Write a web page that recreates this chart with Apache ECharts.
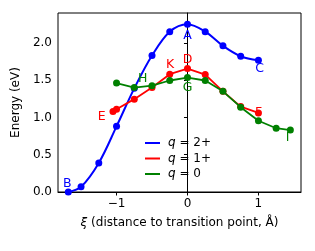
<!DOCTYPE html>
<html><head><meta charset="utf-8">
<script src="https://cdn.jsdelivr.net/npm/echarts@6/dist/echarts.min.js"></script>
<style>html,body{margin:0;padding:0;background:#fff}#c{width:315px;height:251px}</style>
</head><body><div id="c"></div>
<script>
var blueX = [-1.68, -1.5, -1.25, -1.0, -0.75, -0.5, -0.25, 0, 0.25, 0.5, 0.75, 1.0];
var blueY = [0.0, 0.07, 0.39, 0.88, 1.39, 1.83, 2.15, 2.25, 2.15, 1.96, 1.82, 1.765];
var redX = [-1.05, -1.0, -0.75, -0.5, -0.25, 0, 0.25, 0.5, 0.75, 1.0];
var redY = [1.08, 1.11, 1.245, 1.40, 1.58, 1.655, 1.575, 1.35, 1.145, 1.06];
var greenX = [-1.0, -0.75, -0.5, -0.25, 0, 0.25, 0.5, 0.75, 1.0, 1.25, 1.45];
var greenY = [1.46, 1.40, 1.425, 1.495, 1.535, 1.495, 1.35, 1.137, 0.955, 0.855, 0.83];
var seriesNames = ['2+', '1+', '0'];
var xTicks = [-1, 0, 1];
var yTicks = [0, 0.5, 1.0, 1.5, 2.0];
var labelText = ['A', 'B', 'C', 'D', 'K', 'E', 'F', 'G', 'H', 'I'];
var labelX = [0, -1.695, 1.017, 0, -0.244, -1.209, 1.003, 0, -0.63, 1.41];
var labelY = [2.098, 0.113, 1.65, 1.775, 1.707, 1.01, 1.057, 1.40, 1.512, 0.73];
var labelSeries = [0, 0, 0, 1, 1, 1, 1, 2, 2, 2];

var colors = ['#0000ff', '#ff0000', '#008000'];
function zip(xs, ys) { return xs.map(function (x, i) { return [x, ys[i]]; }); }
var FONT = 'DejaVu Sans';
var chart = echarts.init(document.getElementById('c'), null, {renderer: 'canvas'});
var lineSeries = [[blueX, blueY], [redX, redY], [greenX, greenY]].map(function (d, k) {
  return {
    name: seriesNames[k], type: 'line', data: zip(d[0], d[1]),
    smooth: k === 0 ? 0.35 : false,
    symbol: 'circle', symbolSize: 7, showAllSymbol: true,
    itemStyle: {color: colors[k]}, lineStyle: {color: colors[k], width: k === 0 ? 2 : 1.8},
    animation: false, z: 2 + k
  };
});
var labelData = labelText.map(function (t, i) { return [labelX[i], labelY[i], labelSeries[i], t]; });
var labelSer = {
  type: 'custom', data: labelData, silent: true, animation: false, z: 10,
  encode: {x: 0, y: 1},
  renderItem: function (params, api) {
    var p = api.coord([api.value(0), api.value(1)]);
    var k = api.value(2);
    return {
      type: 'text', x: p[0], y: p[1],
      style: {text: labelData[params.dataIndex][3], fill: colors[k], font: '12.5px "DejaVu Sans"',
        align: 'center', verticalAlign: 'middle'}
    };
  }
};
chart.setOption({
  animation: false,
  textStyle: {fontFamily: FONT},
  grid: {left: 58, right: 14, top: 13, bottom: 59, show: true, borderColor: '#000', borderWidth: 1, containLabel: false},
  legend: {
    show: true, orient: 'vertical', left: 140, top: 131,
    itemWidth: 15, itemHeight: 2, itemGap: 1.5, icon: 'rect',
    data: seriesNames,
    textStyle: {fontFamily: FONT, fontSize: 12, lineHeight: 14, color: '#000',
      rich: {i: {fontStyle: 'italic', fontFamily: FONT, fontSize: 12, lineHeight: 14, padding: [0, 0, 0, 3]}, t: {fontFamily: FONT, fontSize: 12, lineHeight: 14}}},
    formatter: function (n) { return '{i|q}{t| = ' + n + '}'; }
  },
  xAxis: {
    type: 'value', min: -1.825, max: 1.6,
    name: '{i|ξ} (distance to transition point, Å)', nameLocation: 'middle', nameGap: 25,
    nameTextStyle: {fontFamily: FONT, fontSize: 12, color: '#000',
      rich: {i: {fontStyle: 'italic', fontFamily: FONT, fontSize: 12}}},
    axisLine: {show: true, lineStyle: {color: '#000', width: 1}},
    axisTick: {show: true, length: 3.5, customValues: xTicks, lineStyle: {color: '#000'}},
    axisLabel: {customValues: xTicks, fontFamily: FONT, fontSize: 12, color: '#000', margin: 6,
      formatter: function (v) { return v < 0 ? '\u2212' + Math.abs(v) : String(v); }},
    splitLine: {show: false}
  },
  yAxis: {
    type: 'value', min: 0, max: 2.4,
    name: 'Energy (eV)', nameLocation: 'middle', nameGap: 30,
    nameTextStyle: {fontFamily: FONT, fontSize: 12, color: '#000'},
    axisLine: {show: true, lineStyle: {color: '#000', width: 1}},
    axisTick: {show: true, length: 3.5, customValues: yTicks, lineStyle: {color: '#000'}},
    axisLabel: {customValues: yTicks, fontFamily: FONT, fontSize: 12, color: '#000', margin: 6,
      formatter: function (v) { return v.toFixed(1); }},
    splitLine: {show: false}
  },
  series: lineSeries.concat([labelSer])
});
</script></body></html>
